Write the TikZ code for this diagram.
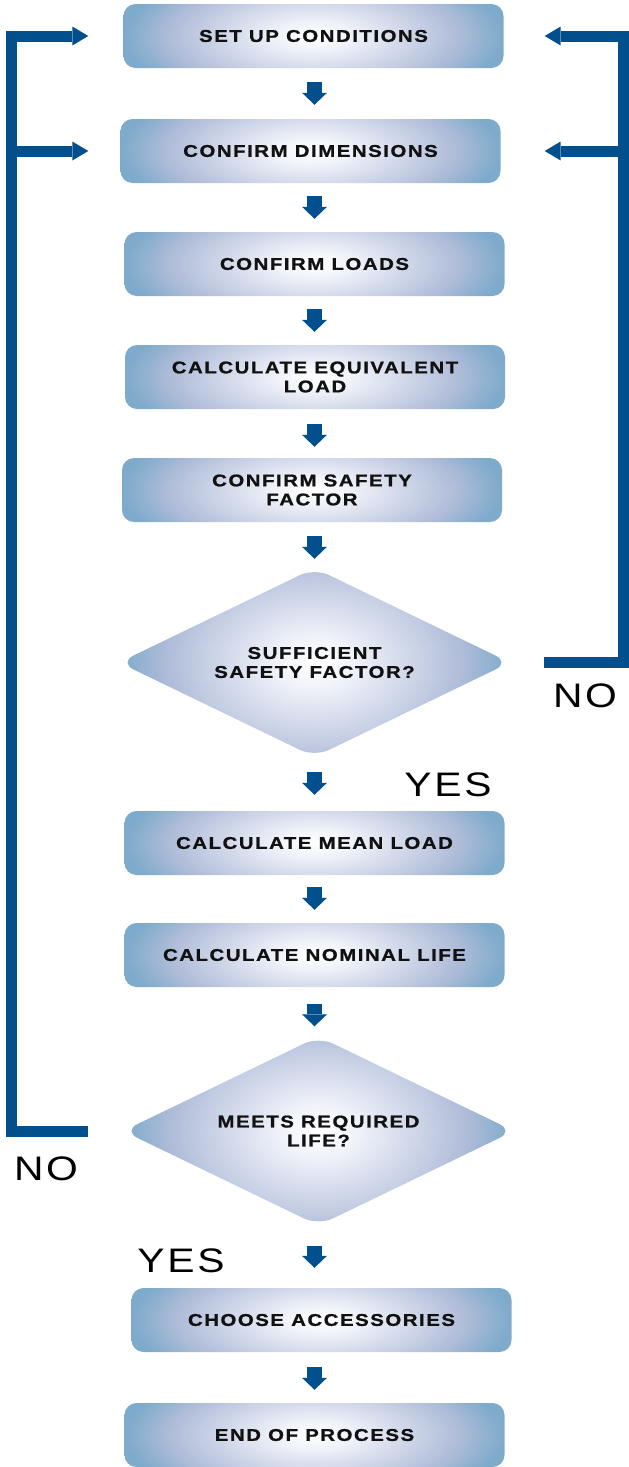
\documentclass[tikz,border=0pt]{standalone}
\usepackage{fontspec}
\usetikzlibrary{arrows.meta, shapes.geometric, calc}
\newfontfamily\boxfont[FakeStretch=1.2, FakeBold=1, LetterSpace=9]{Liberation Sans}
\newfontfamily\tagfont[FakeStretch=1.2, LetterSpace=8]{Liberation Sans}
\definecolor{rail-blue}{HTML}{024F8E}
\definecolor{box-text}{HTML}{111111}
\definecolor{glow-inner}{HTML}{F0F2F9}
\definecolor{glow-mid}{HTML}{D0D7E9}
\definecolor{glow-lav}{HTML}{AFBCD8}
\definecolor{glow-deep}{HTML}{8DB0CF}
\definecolor{glow-edge}{HTML}{7EAACB}
\pgfdeclareradialshading{boxglow}{\pgfpoint{0bp}{0bp}}{%
  color(0bp)=(white); color(5bp)=(glow-inner); color(12bp)=(glow-mid);
  color(19bp)=(glow-lav); color(23bp)=(glow-deep); color(25bp)=(glow-edge);
  color(50bp)=(glow-edge)}
\tikzset{
  % Soft glow, stretched upwards and downwards so the top edge stays light
  glowfill/.style={path picture={
      \shade[shading=boxglow]
        ([yshift=40pt]path picture bounding box.north west) rectangle
        ([yshift=-40pt]path picture bounding box.south east);}},
  procbox/.style={rectangle, rounded corners=12pt, minimum width=380pt,
    minimum height=64pt, inner sep=0pt, align=center, text=box-text,
    font=\boxfont\bfseries\fontsize{17pt}{19pt}\selectfont, glowfill},
  decision/.style={diamond, aspect=2, rounded corners=16pt, minimum width=391pt,
    minimum height=189pt, inner sep=0pt, align=center, text=box-text,
    font=\boxfont\bfseries\fontsize{17pt}{19pt}\selectfont, glowfill},
  flowarrow/.style={draw=rail-blue, line width=15pt,
    -{Triangle[length=12pt, width=25pt, line width=0pt]}},
  rail/.style={draw=rail-blue, line width=11pt,
    -{Triangle[length=16pt, width=19pt, line width=0pt]}},
  tag/.style={inner sep=0pt, font=\tagfont\fontsize{34pt}{36pt}\selectfont}
}

\begin{document}
\begin{tikzpicture}[x=1pt, y=-1pt]
  \useasboundingbox (0,0) rectangle (629,1467);

  % ---- Process steps -------------------------------------------------------
  \node[procbox] (setup)   at (313.5, 36)    {SET UP CONDITIONS};
  \node[procbox] (dims)    at (310.5, 151)   {CONFIRM DIMENSIONS};
  \node[procbox] (loads)   at (314.5, 264)   {CONFIRM LOADS};
  \node[procbox] (equiv)   at (315, 377)     {CALCULATE EQUIVALENT\\LOAD};
  \node[procbox] (factor)  at (312, 490)     {CONFIRM SAFETY\\FACTOR};
  \node[decision] (safe)   at (314.5, 662.5) {SUFFICIENT\\SAFETY FACTOR?};
  \node[procbox] (mean)    at (314.5, 843)   {CALCULATE MEAN LOAD};
  \node[procbox] (nominal) at (314.5, 955)   {CALCULATE NOMINAL LIFE};
  \node[decision] (life)   at (318.5, 1131)  {MEETS REQUIRED\\LIFE?};
  \node[procbox] (access)  at (321.5, 1320)  {CHOOSE ACCESSORIES};
  \node[procbox] (finish)  at (314.5, 1435)  {END OF PROCESS};

  % ---- Short arrows down the middle ----------------------------------------
  \coordinate (spine) at (314.5, 0);
  \draw[flowarrow, shorten <=14pt, shorten >=14pt] (setup.south -| spine)   -- (dims.north -| spine);
  \draw[flowarrow, shorten <=13pt, shorten >=13pt] (dims.south -| spine)    -- (loads.north -| spine);
  \draw[flowarrow, shorten <=13pt, shorten >=13pt] (loads.south -| spine)   -- (equiv.north -| spine);
  \draw[flowarrow, shorten <=15pt, shorten >=11pt] (equiv.south -| spine)   -- (factor.north -| spine);
  \draw[flowarrow, shorten <=14pt, shorten >=9pt]  (factor.south -| spine)  -- (safe.north -| spine);
  \draw[flowarrow, shorten <=15pt, shorten >=16pt] (safe.south -| spine)    -- (mean.north -| spine);
  \draw[flowarrow, shorten <=12pt, shorten >=13pt] (mean.south -| spine)    -- (nominal.north -| spine);
  \draw[flowarrow, shorten <=17pt, shorten >=10pt] (nominal.south -| spine) -- (life.north -| spine);
  \draw[flowarrow, shorten <=20pt, shorten >=20pt] (life.south -| spine)    -- (access.north -| spine);
  \draw[flowarrow, shorten <=15pt, shorten >=13pt] (access.south -| spine)  -- (finish.north -| spine);

  % ---- Feedback rails ------------------------------------------------------
  \coordinate (leftrail)  at (11, 0);
  \coordinate (rightrail) at (623, 0);
  \draw[rail, shorten <=35pt, shorten >=35pt]
    (life.west) -- (life.west -| leftrail) -- (setup.west -| leftrail) -- (setup.west);
  \draw[rail, shorten >=32pt] (dims.west -| leftrail) -- (dims.west);
  \draw[rail, shorten <=34pt, shorten >=41pt]
    (safe.east) -- (safe.east -| rightrail) -- (setup.east -| rightrail) -- (setup.east);
  \draw[rail, shorten >=44pt] (dims.east -| rightrail) -- (dims.east);

  % ---- Answers -------------------------------------------------------------
  \node[tag] (noright)  at (585, 696)  {NO};
  \node[tag] (yesright) at (448, 785)  {YES};
  \node[tag] (noleft)   at (46, 1169)  {NO};
  \node[tag] (yesleft)  at (181, 1261) {YES};

\end{tikzpicture}
\end{document}
